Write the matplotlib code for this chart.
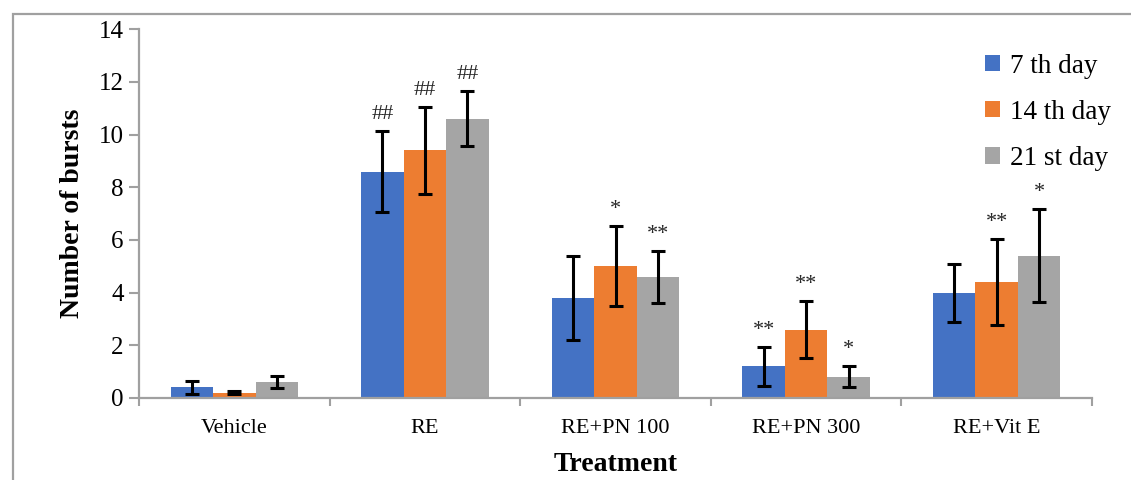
import matplotlib
matplotlib.use("Agg")
import matplotlib.pyplot as plt
import numpy as np
from matplotlib.patches import Rectangle

# ----- data -----
groups = ["Vehicle", "RE", "RE+PN 100", "RE+PN 300", "RE+Vit E"]
series = ["7 th day", "14 th day", "21 st day"]
colors = ["#4472c4", "#ed7d31", "#a5a5a5"]

day7 = [0.4, 8.6, 3.8, 1.2, 4.0]
day14 = [0.2, 9.4, 5.0, 2.6, 4.4]
day21 = [0.6, 10.6, 4.6, 0.8, 5.4]

err7 = [0.23, 1.55, 1.6, 0.75, 1.1]
err14 = [0.05, 1.65, 1.52, 1.1, 1.63]
err21 = [0.22, 1.05, 1.0, 0.4, 1.76]

marks7 = ["", "##", "", "**", ""]
marks14 = ["", "##", "*", "**", "**"]
marks21 = ["", "##", "**", "*", "*"]

values = [day7, day14, day21]
errors = [err7, err14, err21]
marks = [marks7, marks14, marks21]

plt.rcParams['font.family'] = ['Liberation Serif', 'DejaVu Serif']

fig = plt.figure(figsize=(11.31, 4.8), dpi=100)
ax = fig.add_axes([139/1131, 1-398/480, (1092-139)/1131, (398-29.3)/480])

# outer frame like the pasted chart
fig.patches.append(Rectangle((12.5/1131, -0.1), 1.2, 1.1 - 14/480, transform=fig.transFigure,
                             fill=False, edgecolor="#a0a0a0", linewidth=1.6))

x = np.arange(len(groups))
w = 0.223
for i in range(3):
    pos = x + (i - 1) * w
    ax.bar(pos, values[i], w, color=colors[i], label=series[i], zorder=2)
    ax.errorbar(pos, values[i], yerr=errors[i], fmt='none', ecolor='black',
                elinewidth=2.2, capsize=4.7, capthick=2.2, zorder=3)
    for p, v, e, m in zip(pos, values[i], errors[i], marks[i]):
        if m:
            ax.annotate(m, (p, v + e), xytext=(0, 5), textcoords='offset points',
                        ha='center', va='bottom', fontsize=16,
                        color='#262626')

ax.set_xlim(-0.5, len(groups) - 0.5)
ax.set_ylim(0, 14)
ax.set_yticks(np.arange(0, 15, 2))
ax.set_xticks(x)
ax.set_xticklabels(groups, fontsize=16)
ax.set_xticks(np.arange(-0.5, len(groups)), minor=True)
ax.tick_params(axis='x', which='major', length=0, pad=15)
ax.tick_params(axis='x', which='minor', length=6, width=1.5, color='#a0a0a0')
ax.tick_params(axis='y', length=7, width=1.5, color='#a0a0a0', labelsize=18, pad=4)

for s in ['top', 'right']:
    ax.spines[s].set_visible(False)
for s in ['left', 'bottom']:
    ax.spines[s].set_color('#a0a0a0')
    ax.spines[s].set_linewidth(1.6)

ax.set_xlabel('Treatment', fontsize=20, fontweight='bold', labelpad=10)
ax.set_ylabel('Number of bursts', fontsize=20, fontweight='bold', labelpad=10)

leg = ax.legend(loc='upper right', bbox_to_anchor=(1.045, 1.0), frameon=False, fontsize=19.5,
                handlelength=0.55, handleheight=0.55, handletextpad=0.35, labelspacing=0.78)

fig.savefig('out.png', dpi=100)
